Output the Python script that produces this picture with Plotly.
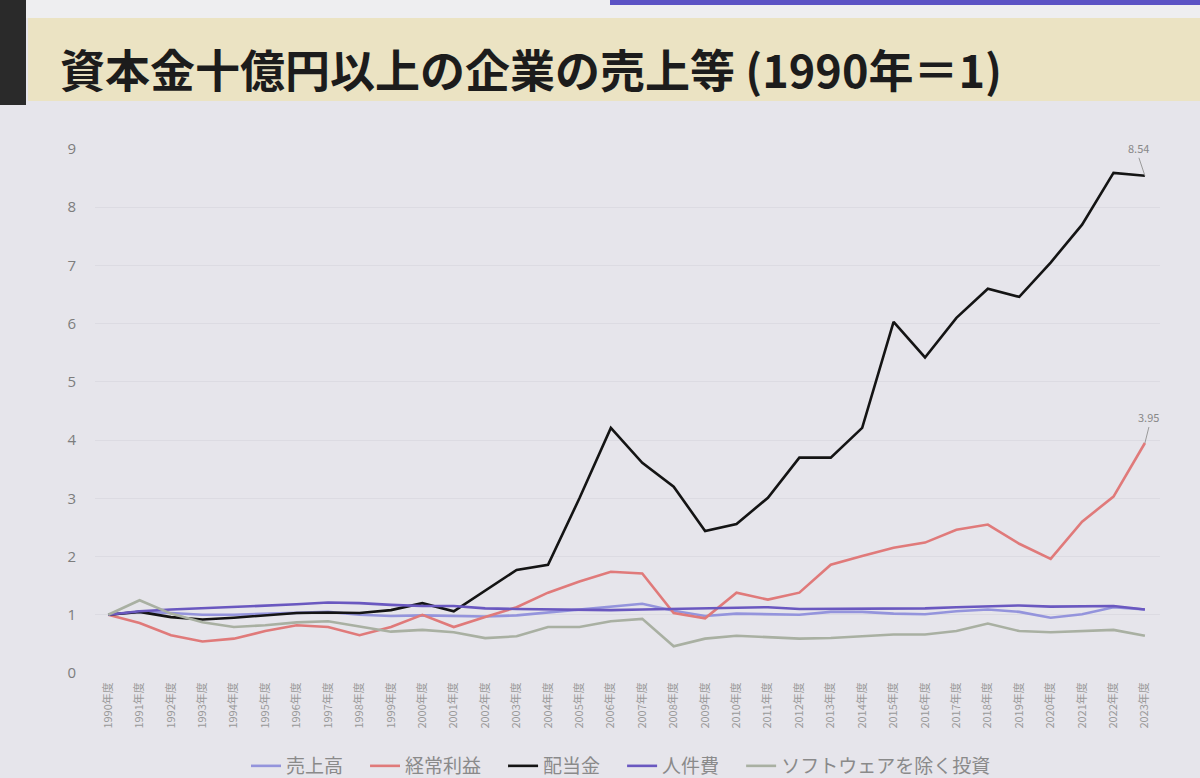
import plotly.graph_objects as go

years = list(range(1990, 2024))
tick_labels = [f"{y}年度" for y in years]

sales = [1.00, 1.05, 1.03, 1.00, 1.00, 1.02, 1.04, 1.05, 1.00, 0.98, 0.99, 0.98, 0.97, 0.99, 1.04, 1.08, 1.13,
         1.19, 1.07, 0.98, 1.02, 1.01, 1.00, 1.05, 1.05, 1.02, 1.01, 1.06, 1.09, 1.05, 0.95, 1.01, 1.13, 1.09]
profit = [1.00, 0.86, 0.65, 0.54, 0.59, 0.72, 0.82, 0.79, 0.65, 0.79, 1.00, 0.79, 0.96, 1.13, 1.38, 1.57, 1.74,
          1.71, 1.03, 0.94, 1.38, 1.26, 1.38, 1.86, 2.01, 2.15, 2.24, 2.46, 2.55, 2.22, 1.96, 2.60, 3.03, 3.95]
dividend = [1.00, 1.05, 0.96, 0.92, 0.95, 0.99, 1.03, 1.04, 1.03, 1.08, 1.20, 1.06, 1.42, 1.77, 1.86, 3.00, 4.21,
            3.61, 3.20, 2.44, 2.56, 3.01, 3.70, 3.70, 4.21, 6.03, 5.42, 6.10, 6.60, 6.46, 7.05, 7.70, 8.59, 8.54]
labor = [1.00, 1.06, 1.09, 1.11, 1.13, 1.15, 1.18, 1.21, 1.20, 1.17, 1.15, 1.15, 1.11, 1.10, 1.09, 1.08, 1.08,
         1.09, 1.10, 1.12, 1.13, 1.13, 1.10, 1.10, 1.10, 1.11, 1.11, 1.13, 1.15, 1.16, 1.14, 1.15, 1.15, 1.09]
invest = [1.00, 1.25, 1.02, 0.87, 0.79, 0.82, 0.87, 0.89, 0.80, 0.71, 0.74, 0.70, 0.60, 0.63, 0.79, 0.79, 0.89,
          0.93, 0.46, 0.59, 0.64, 0.62, 0.59, 0.60, 0.63, 0.66, 0.66, 0.72, 0.85, 0.72, 0.70, 0.72, 0.74, 0.64]

series_names = ["売上高", "経常利益", "配当金", "人件費", "ソフトウェアを除く投資"]
series_colors = ["#9494dc", "#e07a7a", "#141414", "#6a58c0", "#a9b0a2"]
series_values = [sales, profit, dividend, labor, invest]

title_text = "資本金十億円以上の企業の売上等 (1990年＝1)"

W, H = 1200, 778
L, R, T, B = 95, 1160, 149, 673
FONT = "Noto Sans CJK JP"
NBSP = "\u00a0"


def px(xp):
    return (xp - L) / (R - L)


def py(yp):
    return (B - yp) / (B - T)


fig = go.Figure()
xs = list(range(len(years)))
for i, (name, color, vals) in enumerate(zip(series_names, series_colors, series_values)):
    pad = NBSP * 4 if i < len(series_names) - 1 else ""
    fig.add_trace(go.Scatter(
        x=xs, y=vals, mode="lines", name=name + pad,
        line=dict(color=color, width=2.6),
    ))

bg = "#e6e5eb"
shapes = [
    dict(type="rect", xref="paper", yref="paper", x0=px(0), x1=px(W), y0=py(0), y1=py(18),
         fillcolor="#eeeef0", line_width=0, layer="below"),
    dict(type="rect", xref="paper", yref="paper", x0=px(610), x1=px(W), y0=py(0), y1=py(5),
         fillcolor="#5b52c4", line_width=0, layer="below"),
    dict(type="rect", xref="paper", yref="paper", x0=px(28), x1=px(W), y0=py(18), y1=py(101),
         fillcolor="#ebe3c3", line_width=0, layer="below"),
    dict(type="rect", xref="paper", yref="paper", x0=px(0), x1=px(26), y0=py(0), y1=py(105),
         fillcolor="#2a2a2a", line_width=0, layer="below"),
]

annotations = [
    dict(xref="paper", yref="paper", x=px(58), y=py(68), xanchor="left", yanchor="middle",
         text=f"<b>{title_text}</b>", showarrow=False,
         font=dict(family=FONT, size=45, color="#1c1c1c")),
    dict(x=xs[-1], y=dividend[-1], xref="x", yref="y", text=f"{dividend[-1]:.2f}",
         showarrow=True, arrowhead=0, arrowwidth=1, arrowcolor="#9a9a9a", ax=-6, ay=-18,
         font=dict(family=FONT, size=11, color="#888888"), yanchor="bottom"),
    dict(x=xs[-1], y=profit[-1], xref="x", yref="y", text=f"{profit[-1]:.2f}",
         showarrow=True, arrowhead=0, arrowwidth=1, arrowcolor="#9a9a9a", ax=4, ay=-16,
         font=dict(family=FONT, size=11, color="#888888"), yanchor="bottom"),
]

fig.update_layout(
    width=W, height=H,
    margin=dict(l=L, r=W - R, t=T, b=H - B, pad=0, autoexpand=False),
    paper_bgcolor=bg, plot_bgcolor=bg,
    font=dict(family=FONT, color="#888888"),
    shapes=shapes, annotations=annotations,
    showlegend=True,
    legend=dict(orientation="h", x=px(621), y=py(766), xanchor="center", yanchor="middle",
                font=dict(family=FONT, size=19, color="#8a8a8a"), bgcolor="rgba(0,0,0,0)",
                itemwidth=30, tracegroupgap=0),
)
fig.update_xaxes(
    range=[-0.42, len(years) - 1 + 0.48],
    tickmode="array", tickvals=xs, ticktext=tick_labels, tickangle=-90,
    tickfont=dict(family=FONT, size=11, color="#9a9a9a"),
    showgrid=False, zeroline=False, showline=False, ticks="", ticklabelstandoff=6,
)
fig.update_yaxes(
    range=[0, 9], tickvals=list(range(10)),
    tickfont=dict(family="Open Sans", size=15, color="#7d7d7d"),
    showgrid=True, gridcolor="#dcdbe2", gridwidth=1, zeroline=False, showline=False,
    ticks="", ticklabelstandoff=18,
)

fig.write_html("out.html", config={"displayModeBar": False},
               post_script="document.body.style.margin='0';document.body.style.background='#e6e5eb';")
